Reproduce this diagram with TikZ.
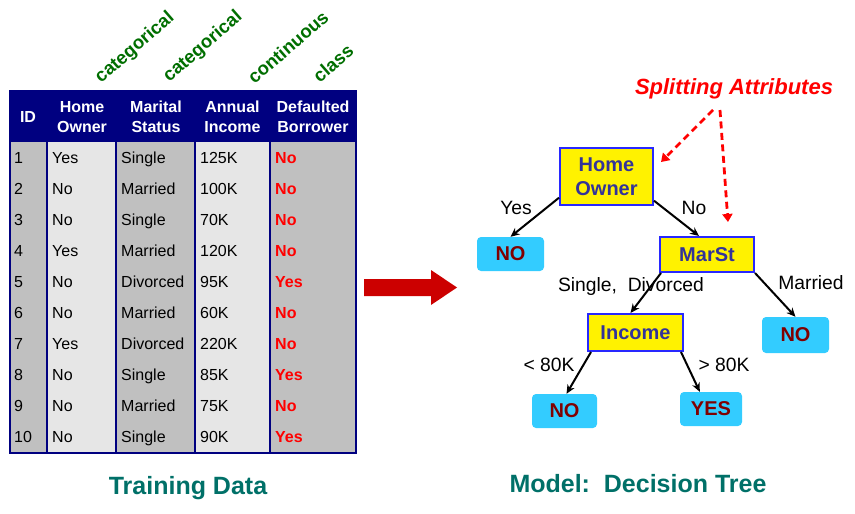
\documentclass[tikz,border=0pt]{standalone}
\usepackage{fontspec}
\setmainfont{Liberation Sans}
\usetikzlibrary{arrows.meta,calc}
\definecolor{hdr}{RGB}{0,0,128}
\definecolor{lightc}{RGB}{230,230,230}
\definecolor{darkc}{RGB}{192,192,192}
\definecolor{catgreen}{RGB}{0,110,0}
\definecolor{teal2}{RGB}{0,112,104}
\definecolor{nodetxt}{RGB}{51,51,153}
\definecolor{boxblue}{RGB}{40,40,255}
\definecolor{leafcyan}{RGB}{51,204,255}
\definecolor{leaftxt}{RGB}{128,0,0}
\definecolor{arrred}{RGB}{204,0,0}
\tikzset{
  cell/.style={anchor=base west,inner sep=0pt,font=\fontsize{16}{18}\selectfont},
  redcell/.style={cell,text=red,font=\fontsize{16}{18}\selectfont\bfseries},
  hcell/.style={align=center,inner sep=0pt,text=white,font=\fontsize{16}{19.5}\selectfont\bfseries},
  catlabel/.style={rotate=41,text=catgreen,inner sep=0pt,font=\fontsize{18.5}{20}\selectfont\bfseries},
  attrbox/.style={draw=boxblue,line width=2pt,fill=yellow,text=nodetxt,align=center,inner sep=0pt,font=\fontsize{20}{24}\selectfont\bfseries},
  leaf/.style={fill=leafcyan,rounded corners=4pt,text=leaftxt,inner sep=0pt,font=\fontsize{20}{23}\selectfont\bfseries},
  edge/.style={line width=2pt,-{Stealth[length=9pt,width=8pt]}},
  elabel/.style={inner sep=0pt,font=\fontsize{19.3}{22}\selectfont},
  redarrow/.style={red,line width=2.8pt,dash pattern=on 7pt off 4.5pt,-{Triangle[length=8pt,width=10pt]}},
  title/.style={text=teal2,inner sep=0pt,font=\fontsize{25}{28}\selectfont\bfseries}
}
\begin{document}
\begin{tikzpicture}[x=1pt,y=-1pt]
\useasboundingbox (0,0) rectangle (855,514);
% table background columns
\fill[darkc] (10,142) rectangle (47,453);
\fill[lightc] (47,142) rectangle (116,453);
\fill[darkc] (116,142) rectangle (195,453);
\fill[lightc] (195,142) rectangle (270,453);
\fill[darkc] (270,142) rectangle (356,453);
\fill[hdr] (10,91) rectangle (356,142);
\foreach \x in {47,116,195,270}
  \draw[hdr,line width=1.5pt] (\x,142) -- (\x,453);
\draw[hdr,line width=1.5pt] (10,91) rectangle (356,453);
% header
\node[hcell] (hid) at (28,117) {ID};
\node[hcell] (hho) at (82,117) {Home\\Owner};
\node[hcell] (hms) at (156,117) {Marital\\Status};
\node[hcell] (hai) at (232.5,117) {Annual\\Income};
\node[hcell] (hdb) at (313,117) {Defaulted\\Borrower};
% category labels
\node[catlabel] (c1) at (135,48) {categorical};
\node[catlabel] (c2) at (203,47) {categorical};
\node[catlabel] (c3) at (288,47) {continuous};
\node[catlabel] (c4) at (333,63) {class};
% rows
\foreach \i/\ho/\ms/\inc/\cl [count=\n from 0] in {
 1/Yes/Single/125K/No, 2/No/Married/100K/No, 3/No/Single/70K/No,
 4/Yes/Married/120K/No, 5/No/Divorced/95K/Yes, 6/No/Married/60K/No,
 7/Yes/Divorced/220K/No, 8/No/Single/85K/Yes, 9/No/Married/75K/No,
 10/No/Single/90K/Yes}{
  \pgfmathsetmacro{\yb}{142+31*\n+21.5}
  \node[cell] (id\i) at (14,\yb) {\i};
  \node[cell] (ho\i) at (52,\yb) {\ho};
  \node[cell] (ms\i) at (121,\yb) {\ms};
  \node[cell] (in\i) at (200,\yb) {\inc};
  \node[redcell] (cl\i) at (275,\yb) {\cl};
}
\node[title] (td) at (188,488) {Training Data};
% block arrow
\fill[arrred] (364,279) -- (431,279) -- (431,270) -- (457,287.5) -- (431,305) -- (431,296) -- (364,296) -- cycle;
% tree
\node[attrbox,minimum width=93pt,minimum height=57pt] (ho) at (606.5,176.5) {Home\\Owner};
\node[leaf,minimum width=67pt,minimum height=34pt] (noL) at (510.5,254) {NO};
\node[attrbox,minimum width=94pt,minimum height=35pt] (ms) at (707,254.5) {MarSt};
\node[attrbox,minimum width=95pt,minimum height=37pt] (inc) at (635.5,332.5) {Income};
\node[leaf,minimum width=67pt,minimum height=36pt] (noR) at (795.5,335) {NO};
\node[leaf,minimum width=65pt,minimum height=34pt] (noB) at (564.5,411) {NO};
\node[leaf,minimum width=62pt,minimum height=34pt] (yes) at (711,409) {YES};
\draw[edge] ($(ho.south west)!0.14!(ho.north west)$) -- (noL.north);
\draw[edge] ($(ho.south east)!0.09!(ho.north east)$) -- ($(ms.north)+(-8,0)$);
\draw[edge] ($(ms.south west)+(2,0)$) -- ($(inc.north)+(-5,0)$);
\draw[edge] (ms.south east) -- (noR.north);
\draw[edge] ($(inc.south west)+(4,0)$) -- ($(noB.north)+(2,0)$);
\draw[edge] ($(inc.south east)+(-3,0)$) -- ($(yes.north west)+(20,0)$);
\node[elabel] (lyes) at (516,208) {Yes};
\node[elabel] (lno) at (694,208) {No};
\node[elabel] (lsd) at (631,287) {Single,\ \ Divorced};
\node[elabel] (lmar) at (811,283) {Married};
\node[elabel] (llt) at (549,365) {<\ 80K};
\node[elabel] (lgt) at (724,365) {>\ 80K};
\node[text=red,inner sep=0pt,font=\fontsize{22}{24}\selectfont\bfseries\itshape] (sa) at (734,89) {Splitting Attributes};
\coordinate (d1s) at (713,110);
\coordinate (d1e) at (661,162);
\coordinate (d2s) at (720,110);
\coordinate (d2e) at (728,222);
\draw[redarrow] (d1s) -- (d1e);
\draw[redarrow] (d2s) -- (d2e);
\node[title] (md) at (638,484) {Model:\ \ Decision Tree};
\end{tikzpicture}
\end{document}
